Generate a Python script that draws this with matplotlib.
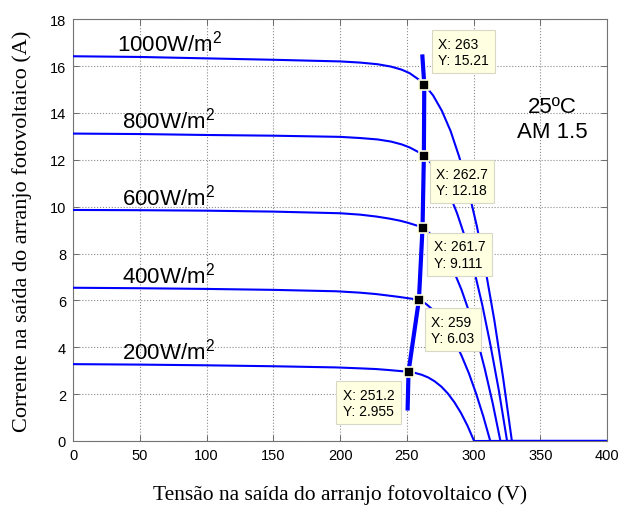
import matplotlib
matplotlib.use("Agg")
import matplotlib.pyplot as plt

plt.rcParams['font.family'] = ['Liberation Sans', 'DejaVu Sans']
plt.rcParams['mathtext.fontset'] = 'custom'
plt.rcParams['mathtext.rm'] = 'Liberation Sans'
plt.rcParams['mathtext.default'] = 'regular'

# I-V curves of the PV array, one per irradiance level
labels = ['1000W/m$^2$', '800W/m$^2$', '600W/m$^2$', '400W/m$^2$', '200W/m$^2$']

v_1000 = [0, 50, 100, 150, 200, 215, 228, 238, 246, 252, 257, 260, 263,
          269.6, 276.1, 282.7, 289.2, 295.8, 302.4, 308.9, 315.5, 322.0, 328.6, 400]
i_1000 = [16.42, 16.39, 16.33, 16.27, 16.20, 16.15, 16.08, 15.98, 15.85, 15.70, 15.50, 15.38, 15.21,
          14.75, 14.10, 13.23, 12.12, 10.77, 9.16, 7.29, 5.14, 2.71, 0, 0]

v_800 = [0, 50, 100, 150, 200, 215, 228, 238, 246, 252, 257, 260, 262.7,
         268.9, 275.2, 281.4, 287.6, 293.9, 300.1, 306.3, 312.5, 318.8, 325.0, 400]
i_800 = [13.12, 13.10, 13.06, 13.03, 12.98, 12.93, 12.87, 12.78, 12.66, 12.53, 12.38, 12.29, 12.18,
         11.81, 11.29, 10.60, 9.71, 8.63, 7.34, 5.84, 4.11, 2.17, 0, 0]

v_600 = [0, 50, 100, 150, 200, 215, 227, 237, 245, 251, 256, 259, 261.7,
         267.5, 273.4, 279.2, 285.0, 290.9, 296.7, 302.5, 308.3, 314.2, 320.0, 400]
i_600 = [9.86, 9.85, 9.83, 9.79, 9.72, 9.66, 9.58, 9.49, 9.40, 9.31, 9.22, 9.17, 9.111,
         8.84, 8.45, 7.93, 7.26, 6.45, 5.49, 4.37, 3.08, 1.62, 0, 0]

v_400 = [0, 50, 100, 150, 197, 215, 227, 237, 244, 250, 255, 259,
         264.3, 269.7, 275.0, 280.4, 285.7, 291.0, 296.4, 301.7, 307.1, 312.4, 400]
i_400 = [6.54, 6.52, 6.49, 6.45, 6.39, 6.33, 6.27, 6.20, 6.15, 6.10, 6.06, 6.03,
         5.85, 5.59, 5.25, 4.81, 4.27, 3.63, 2.89, 2.04, 1.07, 0, 0]

v_200 = [0, 50, 100, 150, 197, 215, 227, 236, 242, 247, 251.2,
         256.1, 261.0, 265.9, 270.8, 275.8, 280.7, 285.6, 290.5, 295.4, 300.3, 400]
i_200 = [3.28, 3.26, 3.23, 3.19, 3.14, 3.10, 3.07, 3.03, 3.00, 2.975, 2.955,
         2.905, 2.828, 2.713, 2.546, 2.320, 2.024, 1.649, 1.194, 0.647, 0, 0]

curves_v = [v_1000, v_800, v_600, v_400, v_200]
curves_i = [i_1000, i_800, i_600, i_400, i_200]

# maximum power points (data tips)
mpp_v = [263, 262.7, 261.7, 259, 251.2]
mpp_i = [15.21, 12.18, 9.111, 6.03, 2.955]
mpp_txt = ['X: 263\nY: 15.21', 'X: 262.7\nY: 12.18', 'X: 261.7\nY: 9.111',
           'X: 259\nY: 6.03', 'X: 251.2\nY: 2.955']

# MPP locus line, including its two ends
locus_v = [250.5] + mpp_v[::-1] + [261.5]
locus_i = [1.3] + mpp_i[::-1] + [16.5]

fig = plt.figure(figsize=(6.19, 5.06), dpi=100)
ax = fig.add_axes([0.118, 0.1265, 0.863, 0.8335])

for vv, ii in zip(curves_v, curves_i):
    ax.plot(vv, ii, color='#0000ff', lw=1.5, zorder=3)

ax.plot(locus_v, locus_i, color='#0000ff', lw=3, zorder=4, solid_capstyle='butt')
ax.plot(mpp_v, mpp_i, ls='none', marker='s', ms=7.5, mfc='black', mec='#ffffe1',
        mew=1.2, zorder=6)

# data tip boxes, offsets in pixels from each marker
tip_off = [(39, 33), (38, -26), (37, -27), (34, -30), (-40, -31)]
for x, y, t, off in zip(mpp_v, mpp_i, mpp_txt, tip_off):
    ax.annotate(t, xy=(x, y), xytext=off, textcoords='offset pixels',
                ha='center', va='center', multialignment='left', fontsize=10,
                bbox=dict(boxstyle='square,pad=0.45', fc='#ffffe1', ec='#d8d8c8', lw=0.8),
                zorder=7)

label_x = [33, 37, 37, 37, 37]
label_y = [16.65, 13.38, 10.10, 6.77, 3.50]
for x, y, t in zip(label_x, label_y, labels):
    ax.text(x, y, t, fontsize=16, ha='left', va='baseline', zorder=5)

ax.text(359, 14.04, '25ºC', fontsize=16, ha='center', va='baseline')
ax.text(359, 12.96, 'AM 1.5', fontsize=16, ha='center', va='baseline')

ax.set_xlim(0, 400)
ax.set_ylim(0, 18)
ax.set_xticks(range(0, 401, 50))
ax.set_yticks(range(0, 19, 2))
ax.tick_params(direction='in', length=4, width=0.6, top=True, right=True,
               labelsize=10.5, color='0.35', pad=5)
for s in ax.spines.values():
    s.set_color('0.45')
    s.set_linewidth(0.8)
ax.grid(True, ls=':', color='0.55', lw=0.8)
ax.set_axisbelow(True)

ax.set_xlabel('Tensão na saída do arranjo fotovoltaico (V)', family='Liberation Serif',
              fontsize=15.5, labelpad=16)
ax.set_ylabel('Corrente na saída do arranjo fotovoltaico (A)', family='Liberation Serif',
              fontsize=16, labelpad=13)

fig.savefig('out.png', dpi=100)
